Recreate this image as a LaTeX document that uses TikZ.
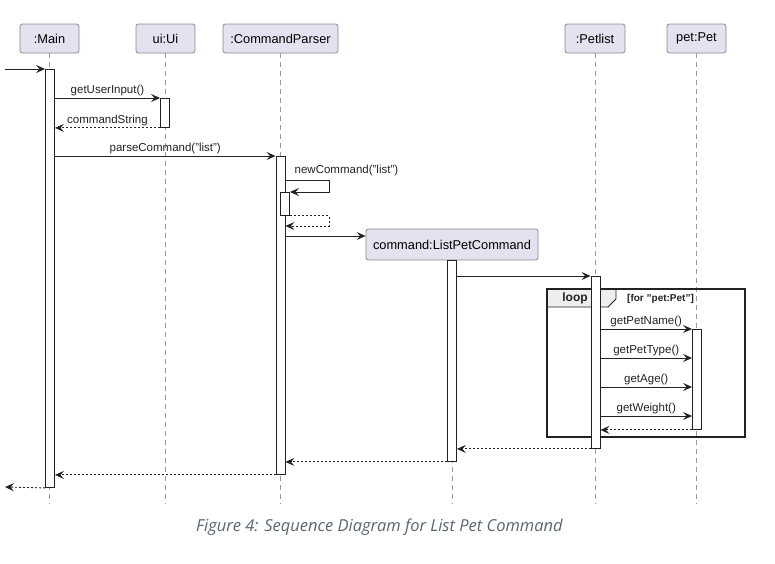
\documentclass[tikz,border=0pt]{standalone}
\usepackage{fontspec}
\setmainfont{Liberation Sans}
\newfontfamily\capfont{Open Sans}
\usetikzlibrary{arrows.meta}
\definecolor{headfill}{HTML}{E2E2F0}
\definecolor{headline}{HTML}{8A8A8A}
\definecolor{lifeline}{HTML}{9A9A9A}
\definecolor{ink}{HTML}{222222}
\definecolor{tabfill}{HTML}{EEEEEE}
\definecolor{capcol}{HTML}{5A6570}
\tikzset{
  head/.style={draw=headline, fill=headfill, rounded corners=2.5pt, line width=0.8pt,
    minimum height=29pt, inner sep=0pt, font=\fontsize{12.8}{14}\selectfont},
  life/.style={draw=lifeline, line width=0.8pt, dash pattern=on 5pt off 4pt},
  act/.style={draw=ink, fill=white, line width=0.9pt, minimum width=9pt, inner sep=0pt, anchor=north},
  msg/.style={draw=ink, line width=0.9pt, -{Stealth[length=9pt,width=8pt,inset=3.5pt]}},
  ret/.style={msg, dash pattern=on 2pt off 2pt},
  lbl/.style={font=\fontsize{11.5}{13}\selectfont, inner sep=1.5pt, text=ink},
}
\begin{document}
\begin{tikzpicture}[x=1pt,y=-1pt]
\useasboundingbox (0,0) rectangle (775,563);
% participants
\node[head, minimum width=59pt] (mainH) at (49.5,38.5) {:Main};
\node[head, minimum width=59pt] (uiH) at (165.5,38.5) {ui:Ui};
\node[head, minimum width=115pt] (cpH) at (280.5,38.5) {:CommandParser};
\node[head, minimum width=60pt] (plH) at (595,38.5) {:Petlist};
\node[head, minimum width=59pt] (petH) at (696.5,38.5) {pet:Pet};
\node[head, minimum width=172pt, minimum height=31pt] (lpH) at (452,244.5) {command:ListPetCommand};
% lifelines
\coordinate (bottom) at (0,504);
\foreach \h in {mainH,uiH,cpH,plH,petH,lpH}
  \draw[life] (\h.south) -- (\h.south |- bottom);
% loop frame
\coordinate (loopNW) at (547,289);
\coordinate (loopSE) at (745,437);
\draw[draw=ink, line width=1.6pt] (loopNW) rectangle (loopSE);
\draw[draw=ink, line width=0.9pt, fill=tabfill] (547,289) -- (616,289) -- (616,299) -- (608,307) -- (547,307) -- cycle;
\draw[draw=ink, line width=1.6pt] (loopNW) rectangle (loopSE);
\node[font=\bfseries\fontsize{12}{13}\selectfont, text=ink, inner sep=0pt] (loopL) at (575,298.5) {loop};
\node[font=\bfseries\fontsize{10}{12}\selectfont, text=ink, anchor=west, inner sep=0pt] (loopC) at (627,298.5) {[for "pet:Pet"]};
% activations
\node[act, minimum height=418pt] (mA) at (50,69) {};
\node[act, minimum height=29pt] (uA) at (165,98) {};
\node[act, minimum height=318pt] (cA) at (280.5,156) {};
\node[act, minimum height=23pt] (cA2) at (285,192) {};
\node[act, minimum height=201pt] (lA) at (452,260) {};
\node[act, minimum height=172pt] (pA) at (595.5,276) {};
\node[act, minimum height=100pt] (tA) at (697,329) {};
% messages
\coordinate (leftIn) at (5,69);
\coordinate (leftOut) at (5,487);
\draw[msg] (leftIn) -- (mA.north west);
\draw[msg] (mA.east |- uA.north) -- node[lbl, above] {getUserInput()} (uA.north west);
\draw[ret] (uA.south west) -- node[lbl, above] {commandString} (mA.east |- uA.south);
\draw[msg] (mA.east |- cA.north) -- node[lbl, above] {parseCommand("list")} (cA.north west);
\coordinate (s1) at (329,180);
\draw[msg] (cA.east |- s1) -- (s1) |- (cA2.north east);
\node[lbl, anchor=south west] (ncL) at (293,178) {newCommand("list")};
\coordinate (s2) at (329,226);
\draw[ret] (cA2.south east) -| (s2) -- (cA.east |- s2);
\coordinate (cr) at (0,236);
\draw[msg] (cA.east |- cr) -- (lpH.west |- cr);
\draw[msg] (lA.east |- pA.north) -- (pA.north west);
\draw[msg] (pA.east |- tA.north) -- node[lbl, above] {getPetName()} (tA.north west);
\coordinate (m2) at (0,358);
\coordinate (m3) at (0,387);
\coordinate (m4) at (0,416);
\draw[msg] (pA.east |- m2) -- node[lbl, above] {getPetType()} (tA.west |- m2);
\draw[msg] (pA.east |- m3) -- node[lbl, above] {getAge()} (tA.west |- m3);
\draw[msg] (pA.east |- m4) -- node[lbl, above] {getWeight()} (tA.west |- m4);
\draw[ret] (tA.south west) -- (pA.east |- tA.south);
\draw[ret] (pA.south west) -- (lA.east |- pA.south);
\draw[ret] (lA.south west) -- (cA.east |- lA.south);
\draw[ret] (cA.south west) -- (mA.east |- cA.south);
\draw[ret] (mA.south west) -- (leftOut);
% caption
\node[font=\capfont\itshape\fontsize{16.5}{18}\selectfont, text=capcol, inner sep=0pt] (cap) at (379.5,527) {Figure 4: Sequence Diagram for List Pet Command};
\end{tikzpicture}
\end{document}
